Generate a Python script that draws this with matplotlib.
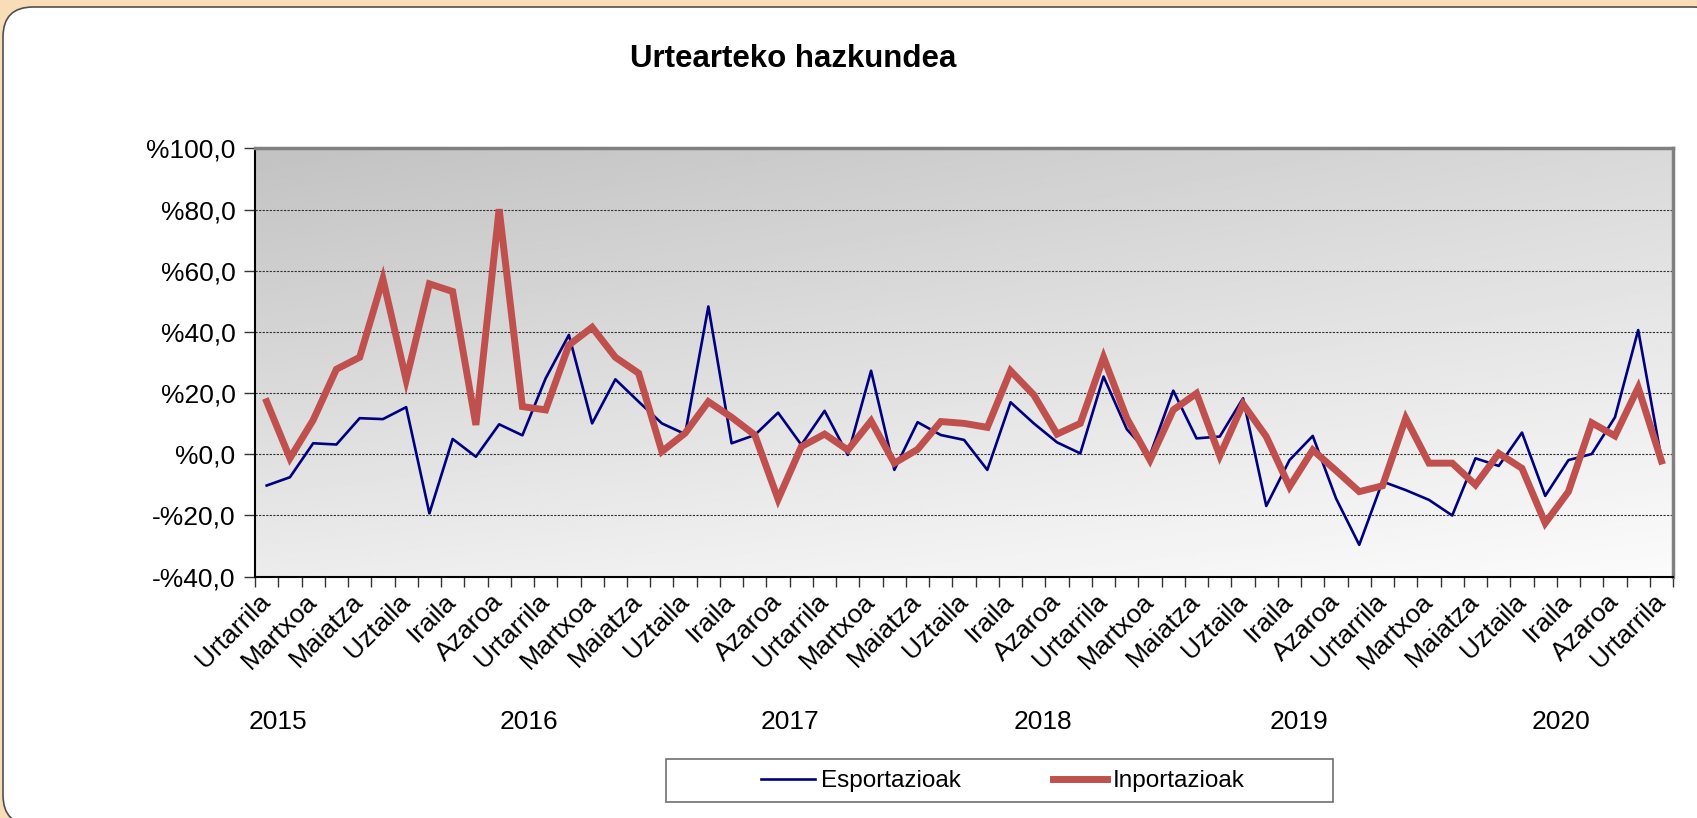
import numpy as np
import matplotlib
matplotlib.use('Agg')
import matplotlib.pyplot as plt
from matplotlib.patches import FancyBboxPatch, Rectangle
from matplotlib.transforms import IdentityTransform

plt.rcParams['font.family'] = ['Liberation Sans', 'DejaVu Sans']

# --- data: year-on-year growth (%), monthly, Jan 2015 - Jan 2020 ---
month_names = ['Urtarrila', 'Otsaila', 'Martxoa', 'Apirila', 'Maiatza', 'Ekaina',
               'Uztaila', 'Abuztua', 'Iraila', 'Urria', 'Azaroa', 'Abendua']
months = [month_names[i % 12] for i in range(61)]
years = ['2015', '2016', '2017', '2018', '2019', '2020']
year_pos = [0.5, 11.3, 22.5, 33.4, 44.4, 55.7]

esportazioak = [-10.2, -7.5, 3.6, 3.2, 11.8, 11.5, 15.4, -19.3, 5.0, -0.8,
                9.8, 6.2, 24.8, 39.0, 10.1, 24.5, 17.2, 10.1, 6.6, 48.3,
                3.6, 6.3, 13.6, 3.1, 14.2, -0.2, 27.3, -5.1, 10.5, 6.3,
                4.7, -5.1, 17.0, 10.1, 3.9, 0.3, 25.4, 8.2, -0.2, 20.8,
                5.2, 5.8, 18.3, -16.9, -1.9, 6.0, -14.4, -29.6, -8.9, -11.7,
                -14.9, -20.0, -1.3, -3.8, 7.1, -13.6, -1.9, 0.1, 12.1, 40.6,
                -1.5]
inportazioak = [17.2, -1.3, 11.2, 27.8, 31.7, 57.3, 24.3, 55.7, 53.2, 9.6,
                80.1, 15.6, 14.5, 35.7, 41.5, 31.7, 26.5, 0.9, 6.9, 17.2,
                12.1, 6.3, -14.7, 2.5, 6.6, 1.4, 10.9, -2.9, 1.6, 10.7,
                10.1, 8.8, 27.3, 19.4, 6.6, 10.1, 31.7, 11.8, -1.9, 14.5,
                19.9, -0.5, 16.4, 5.8, -10.6, 1.4, -5.3, -12.2, -10.3, 11.8,
                -2.9, -2.9, -10.0, 0.3, -4.6, -22.5, -12.2, 10.3, 6.0, 21.8,
                -2.2]

x = np.arange(len(months))

fig = plt.figure(figsize=(16.97, 8.18), dpi=100)
fig.patch.set_facecolor('#F9DDB9')

# rounded white panel (pixel coords)
panel = FancyBboxPatch((3, -7), 1720, 818, boxstyle='round,pad=0,rounding_size=30',
                       transform=IdentityTransform(), facecolor='white',
                       edgecolor='#505050', linewidth=1.2, zorder=0)
fig.add_artist(panel)

ax = fig.add_axes([0.1503, 0.295, 0.8356, 0.5237])

# gradient plot background
grad = np.array([[194, 217], [236, 251]]) / 255.0
ys, xs = np.mgrid[0:1:200j, 0:1:200j]
img = (grad[0, 0] * (1 - ys) * (1 - xs) + grad[0, 1] * (1 - ys) * xs
       + grad[1, 0] * ys * (1 - xs) + grad[1, 1] * ys * xs)
ax.imshow(img, cmap='gray', vmin=0, vmax=1, extent=[0, 1, 0, 1],
          transform=ax.transAxes, aspect='auto', zorder=0, interpolation='bilinear')

ax.plot(x, esportazioak, color='#000080', linewidth=1.9, label='Esportazioak', zorder=3)
ax.plot(x, inportazioak, color='#C0504D', linewidth=5, label='Inportazioak', zorder=4,
        solid_joinstyle='miter')

ax.set_xlim(-0.5, len(months) - 0.5)
ax.set_ylim(-40, 100)

ax.set_yticks(np.arange(-40, 101, 20))
ax.set_yticklabels([('-' if v < 0 else '') + '%' + f'{abs(v):.1f}'.replace('.', ',')
                    for v in np.arange(-40, 101, 20)], fontsize=19)
for v in range(-20, 100, 20):
    ax.axhline(v, color='#333333', linewidth=0.8, linestyle=(0, (2, 1.2)), zorder=1)

ax.set_xticks(x[::2])
ax.set_xticklabels(months[::2], rotation=45, ha='right', va='center',
                   rotation_mode='anchor', fontsize=19)
ax.set_xticks(np.arange(-0.5, len(months)), minor=True)
ax.tick_params(axis='x', which='major', length=0, pad=15)
ax.tick_params(axis='x', which='minor', length=7, width=1, color='#333333')
ax.tick_params(axis='y', length=8, width=1, color='#333333', pad=6)

for yr, p in zip(years, year_pos):
    ax.text(p, -0.339, yr, transform=ax.get_xaxis_transform(), ha='center',
            va='center', fontsize=19)

ax.spines['left'].set_color('black')
ax.spines['bottom'].set_color('black')
ax.spines['left'].set_linewidth(1.5)
ax.spines['bottom'].set_linewidth(1.5)
ax.spines['top'].set_color('#808080')
ax.spines['right'].set_color('#808080')
ax.spines['top'].set_linewidth(2.5)
ax.spines['right'].set_linewidth(2.5)

fig.text(793 / 1697, 1 - 59 / 818, 'Urtearteko hazkundea', ha='center', va='center',
         fontsize=22.5, fontweight='bold')

# legend with a wide frame drawn separately
fig.add_artist(Rectangle((666, 16), 667, 43, transform=IdentityTransform(),
                         facecolor='white', edgecolor='#707070', linewidth=1.2, zorder=1))
leg = fig.legend(loc='center', bbox_to_anchor=(1003 / 1697, 1 - 781 / 818),
                 ncol=2, fontsize=17.5, frameon=False,
                 handlelength=2.2, handletextpad=0.25, columnspacing=3.8)
leg.set_zorder(2)

fig.savefig('out.png', dpi=100, facecolor=fig.get_facecolor())
